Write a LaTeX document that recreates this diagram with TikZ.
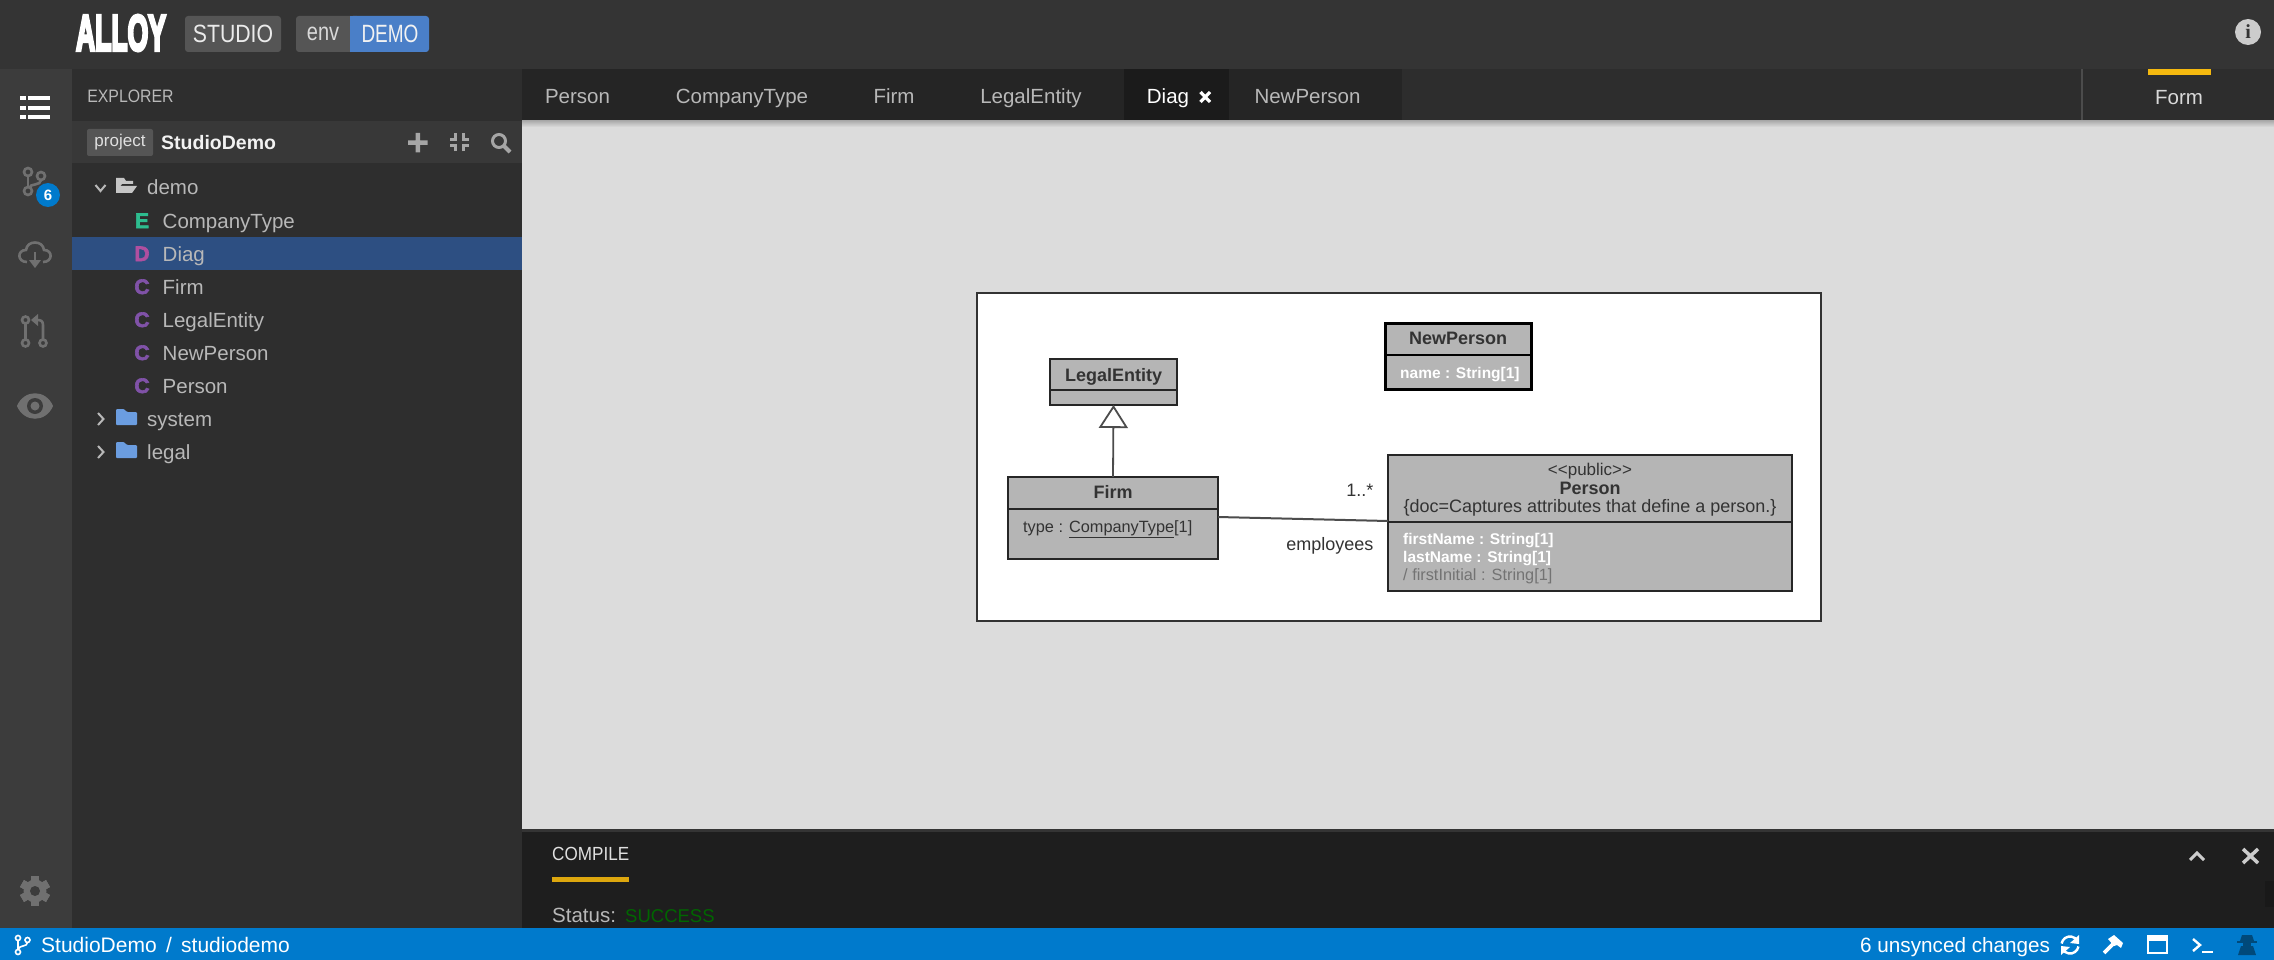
\documentclass[tikz,border=0pt]{standalone}
\usepackage{fontspec}
\usepackage{graphicx}
\setmainfont{Liberation Sans}
\newfontfamily\heavyfont{Liberation Sans Bold}[FakeBold = 3]
\newfontfamily\logofont{Liberation Sans Bold}[FakeBold = 7]
\usetikzlibrary{arrows.meta}

\newcommand{\px}[1]{\fontsize{#1}{#1}\selectfont}

\definecolor{topbar}{HTML}{343434}
\definecolor{sidebar}{HTML}{3C3C3C}
\definecolor{explorer}{HTML}{2E2E2E}
\definecolor{headrow}{HTML}{383838}
\definecolor{tabbar}{HTML}{252525}
\definecolor{tabrest}{HTML}{2D2D2D}
\definecolor{tabactive}{HTML}{1B1B1B}
\definecolor{canvas}{HTML}{DCDCDC}
\definecolor{panel}{HTML}{1E1E1E}
\definecolor{statusbar}{HTML}{007ACC}
\definecolor{selrow}{HTML}{2D4F82}
\definecolor{badge}{HTML}{555555}
\definecolor{envblue}{HTML}{4A7FC8}
\definecolor{amber}{HTML}{F5B90F}
\definecolor{boxgrey}{HTML}{B5B5B5}
\definecolor{icongrey}{HTML}{707070}
\definecolor{treetext}{HTML}{B8B8B8}
\definecolor{folderblue}{HTML}{6B9DE0}
\definecolor{enumgreen}{HTML}{2DBD8F}
\definecolor{diagpink}{HTML}{B04FA0}
\definecolor{classpurple}{HTML}{8052A8}

\tikzset{
	uitext/.style = {inner sep = 0, text height = 14, text depth = 0, text = treetext, font = \px{20.5}},
	treeicon/.style = {inner sep = 0, text height = 14, text depth = 0, font = \px{21}\heavyfont},
	umlbox/.style = {draw = black!85, fill = boxgrey, line width = 1.6, inner sep = 0, outer sep = 0, anchor = north west},
	umltext/.style = {inner sep = 0, text height = 13, text depth = 0, text = black!80, font = \px{18}},
	umlattr/.style = {inner sep = 0, text height = 12.5, text depth = 0, anchor = west, text = white, font = \px{15.5}\bfseries},
	iconline/.style = {draw = icongrey, line width = 2.6},
	whiteline/.style = {draw = white, line width = 2.4}
}

\begin{document}
\begin{tikzpicture}[x = 1pt, y = -1pt, > = latex]

	\useasboundingbox (0, 0) rectangle (2274, 960);

	% Panels

	\fill [topbar] (0, 0) rectangle (2274, 70);
	\fill [sidebar] (0, 69) rectangle (72, 930);
	\fill [explorer] (72, 69) rectangle (522, 930);
	\fill [headrow] (72, 121) rectangle (522, 163);
	\fill [selrow] (72, 237) rectangle (522, 270);
	\fill [tabrest] (522, 69) rectangle (2274, 121);
	\fill [tabbar] (522, 69) rectangle (1402, 121);
	\fill [tabactive] (1124, 69) rectangle (1229, 121);
	\fill [black!70] (2081, 69) rectangle (2083, 121);
	\fill [canvas] (522, 121) rectangle (2274, 829);
	\shade [top color = black!32, bottom color = canvas] (522, 121) rectangle (2274, 127);
	\fill [topbar] (522, 829) rectangle (2274, 832);
	\fill [panel] (522, 832) rectangle (2274, 930);
	\fill [black!90] (2265, 881) rectangle (2274, 907);

	% Top bar

	\node [inner sep = 0, text = white] (logo) at (121, 33) {\scalebox{.78}[1.48]{\px{34}\logofont ALLOY}};
	\node [fill = badge, rounded corners = 3, minimum width = 96, minimum height = 36, inner sep = 0] (studiobox) at (233, 34) {};
	\node [inner sep = 0, text = black!8, font = \px{25}] (studio) at (233, 34) {\scalebox{.85}[1]{STUDIO}};
	\fill [badge, rounded corners = 3] (296, 16) rectangle (360, 52);
	\fill [envblue, rounded corners = 3] (350, 16) rectangle (429, 52);
	\fill [envblue] (350, 16) rectangle (358, 52);
	\node [inner sep = 0, text = black!15, font = \px{25}] (env) at (323, 33.5) {\scalebox{.8}[1]{env}};
	\node [inner sep = 0, text = black!5, font = \px{25}] (demo) at (390, 34) {\scalebox{.76}[1]{DEMO}};
	\node [circle, fill = black!20, minimum size = 26, inner sep = 0, text = topbar, font = \px{20}\bfseries\fontspec{Liberation Serif}] (info) at (2248, 32) {i};

	% Sidebar icons

	\foreach \n in {98, 108, 117} {
		\fill [white] (20, \n - 2) rectangle (26, \n + 2);
		\fill [white] (28, \n - 2) rectangle (50, \n + 2);
	}

	\draw [iconline] (28, 172) circle (4) (41, 176) circle (4) (28, 191) circle (4);
	\draw [iconline] (28, 176) -- (28, 187);
	\draw [iconline] (41, 180) .. controls (41, 186) and (30, 183) .. (29, 188);
	\node [circle, fill = statusbar, minimum size = 24, inner sep = 0, text = white, font = \px{15}\bfseries] (branchcount) at (48, 195) {6};

	\draw [iconline] (27, 262) .. controls (17, 262) and (17, 250) .. (26, 250) .. controls (27, 240) and (43, 240) .. (44, 250) .. controls (53, 250) and (53, 262) .. (43, 262);
	\draw [iconline] (35, 252) -- (35, 262);
	\fill [icongrey] (29, 260) -- (41, 260) -- (35, 268) -- cycle;

	\draw [iconline] (25.5, 320) circle (3.5) (25.5, 343) circle (3.5) (43, 343) circle (3.5);
	\draw [iconline] (25.5, 323.5) -- (25.5, 339.5);
	\draw [iconline] (43, 339.5) -- (43, 325) .. controls (43, 321) and (41, 320) .. (37, 320);
	\fill [icongrey] (38, 314) -- (38, 326) -- (31, 320) -- cycle;

	\fill [icongrey] (17, 406) .. controls (24, 389) and (46, 389) .. (53, 406) .. controls (46, 423) and (24, 423) .. (17, 406) -- cycle;
	\fill [sidebar] (35, 406) circle (8);
	\fill [icongrey] (35, 406) circle (4.5);

	\foreach \n in {0, 60, ..., 300}
		\fill [icongrey, rotate around = {\n:(35, 891)}] (31, 876) rectangle (39, 906);
	\fill [icongrey] (35, 891) circle (11.5);
	\fill [sidebar] (35, 891) circle (5);

	% Explorer header

	\node [uitext, font = \px{18}, text height = 13] (explorerlabel) at (130.5, 96) {\scalebox{.88}[1]{EXPLORER}};
	\node [fill = badge, rounded corners = 2, minimum width = 66, minimum height = 27, inner sep = 0, text = black!12, font = \px{17}] (projectbox) at (120, 142.5) {project};
	\node [inner sep = 0, text height = 13.5, text depth = 0, anchor = west, text = black!5, font = \px{19.5}\bfseries] (projectname) at (161, 143) {StudioDemo};

	\fill [black!35] (408, 140.5) rectangle (427.5, 145) (415.5, 133) rectangle (420, 152.5);
	\foreach \sx/\sy in {1/1, -1/1, 1/-1, -1/-1}
		\draw [black!35, line width = 3] (459.5 - 4 * \sx, 142.5 - 9 * \sy) -- (459.5 - 4 * \sx, 142.5 - 3 * \sy) -- (459.5 - 9.5 * \sx, 142.5 - 3 * \sy);
	\draw [black!35, line width = 3] (499, 141) circle (6.5);
	\draw [black!35, line width = 4] (504, 146) -- (510, 152);

	% File tree

	\draw [treetext, line width = 2] (95.5, 185) -- (100.5, 191) -- (105.5, 185);
	\foreach \n in {419, 452}
		\draw [treetext, line width = 2] (98, \n - 6) -- (103.5, \n) -- (98, \n + 6);

	\fill [treetext!80] (116, 193) -- (116, 178) -- (124, 178) -- (126, 181) -- (133, 181) -- (133, 184) -- (122, 184) -- (118, 188) -- (120, 186) -- (137, 186) -- (132, 193) -- cycle;
	\foreach \n in {417, 450}
		\fill [folderblue, rounded corners = 1] (116, \n + 8) -- (116, \n - 8) -- (124, \n - 8) -- (127, \n - 5) -- (137, \n - 5) -- (137, \n + 8) -- cycle;

	\node [uitext, anchor = west] (treedemo) at (147, 188) {demo};
	\node [uitext, anchor = west] (treesystem) at (147, 419) {system};
	\node [uitext, anchor = west] (treelegal) at (147, 452) {legal};

	\foreach \rowy/\rowchar/\rowcol/\rowname in {221/E/enumgreen/CompanyType, 254/D/diagpink/Diag, 287/C/classpurple/Firm, 320/C/classpurple/LegalEntity, 353/C/classpurple/NewPerson, 386/C/classpurple/Person} {
		\node [treeicon, text = \rowcol] (icon\rowname) at (142, \rowy) {\rowchar};
		\node [uitext, anchor = west] (tree\rowname) at (162.5, \rowy) {\rowname};
	}

	% Tabs

	\foreach \tabx/\tabname in {577.5/Person, 742/CompanyType, 894/Firm, 1031/LegalEntity, 1307.5/NewPerson}
		\node [uitext] (tab\tabname) at (\tabx, 96.5) {\tabname};
	\node [uitext, text = white] (tabDiag) at (1168, 96.5) {Diag};
	\draw [white, line width = 3.2] (1200.5, 92) -- (1210, 102) (1210, 92) -- (1200.5, 102);

	\fill [amber] (2148, 69.5) rectangle (2211, 75);
	\node [uitext, text = black!15] (tabForm) at (2179, 98) {Form};

	% Diagram

	\fill [white] (977, 293) rectangle (1821, 621);
	\draw [black!80, line width = 1.8] (977, 293) rectangle (1821, 621);

	\node [umlbox, minimum width = 127, minimum height = 46] (legal) at (1050, 359) {};
	\node [umlbox, minimum width = 210, minimum height = 82] (firm) at (1008, 477) {};
	\node [umlbox, minimum width = 146, minimum height = 66, line width = 3, draw = black] (newperson) at (1385, 323) {};
	\node [umlbox, minimum width = 404, minimum height = 136] (person) at (1388, 455) {};

	\draw [black!85, line width = 1.6] (1050, 390) -- (1177, 390);
	\draw [black!85, line width = 1.6] (1008, 509) -- (1218, 509);
	\draw [black, line width = 2.6] (1385, 355) -- (1531, 355);
	\draw [black!85, line width = 1.6] (1388, 522) -- (1792, 522);

	\node [umltext, font = \px{18}\bfseries] (legalname) at (1113.5, 374.5) {LegalEntity};
	\node [umltext, font = \px{18}\bfseries] (firmname) at (1113, 492) {Firm};
	\node [umltext, anchor = west, font = \px{16.3}] (firmattr) at (1023, 525.5) {type : \underline{CompanyType}[1]};
	\node [umltext, font = \px{18}\bfseries] (newpersonname) at (1458, 338) {NewPerson};
	\node [umlattr] (newpersonattr) at (1400, 372) {name : String[1]};
	\node [umltext, font = \px{17}] (personstereo) at (1590, 469) {<{}<public>{}>};
	\node [umltext, font = \px{18}\bfseries] (personname) at (1590, 488) {Person};
	\node [umltext] (persondoc) at (1590, 506) {\{doc=Captures attributes that define a person.\}};
	\node [umlattr] (personfirst) at (1403, 538) {firstName : String[1]};
	\node [umlattr] (personlast) at (1403, 556) {lastName : String[1]};
	\node [umlattr, text = black!55, font = \px{16.3}] (personinitial) at (1403, 574) {/ firstInitial : String[1]};

	\draw [-{Triangle[open, fill = white, length = 23, width = 29]}, black!70, line width = 1.8] (firm.north) -- (legal.south);
	\draw [black!70, line width = 2] ([yshift = 1]firm.east) -- ([yshift = 2]person.west);

	\node [umltext, anchor = east] (multiplicity) at (1373.5, 490) {1..*};
	\node [umltext, anchor = east] (rolename) at (1373.5, 544) {employees};

	% Compile panel

	\node [uitext, anchor = west, text = black!12, font = \px{19}] (compile) at (552, 853) {\scalebox{.9}[1]{COMPILE}};
	\fill [amber!90!black] (552, 877) rectangle (629, 882);
	\node [uitext, anchor = west] (statuslabel) at (552, 915) {Status:};
	\node [uitext, anchor = west, text = green!40!black, font = \px{18.5}] (statusvalue) at (625, 915) {SUCCESS};

	\draw [black!20, line width = 3] (2190, 860) -- (2197, 853) -- (2204, 860);
	\draw [black!20, line width = 3.5] (2243, 849) -- (2258, 863) (2258, 849) -- (2243, 863);

	% Status bar

	\fill [statusbar] (0, 928) rectangle (2274, 960);

	\draw [white, line width = 1.6] (18, 938) circle (2.5) (27.5, 940) circle (2.5) (18, 952) circle (2.5);
	\draw [white, line width = 1.6] (18, 940.5) -- (18, 949.5);
	\draw [white, line width = 1.6] (27.5, 942.5) .. controls (27.5, 947) and (19, 945) .. (18.5, 949);
	\node [inner sep = 0, text height = 14, text depth = 0, anchor = west, text = white, font = \px{21}] (branchname) at (41, 945) {StudioDemo\hspace{3.5pt} / \hspace{3.5pt}studiodemo};
	\node [inner sep = 0, text height = 14, text depth = 0, anchor = west, text = white, font = \px{20.7}] (unsynced) at (1860, 945) {6 unsynced changes};

	\draw [whiteline] (2061.6, 943.5) arc (-170:-30:8.5) (2078.4, 946.5) arc (10:150:8.5);
	\fill [white] (2079, 935) -- (2079, 944) -- (2070, 943) -- cycle;
	\fill [white] (2061, 955) -- (2061, 946) -- (2070, 947) -- cycle;
	\draw [white, line width = 3.6] (2104, 953) -- (2116, 941);
	\fill [white] (2108, 939) -- (2114, 935) -- (2123, 943) -- (2121, 948) -- (2117, 945) -- (2114, 946) -- cycle;
	\draw [whiteline] (2148, 936) rectangle (2167, 953);
	\fill [white] (2147, 935) rectangle (2168, 941);
	\draw [whiteline] (2193, 939) -- (2200, 945) -- (2193, 951);
	\draw [whiteline] (2202, 952) -- (2213, 952);
	\fill [statusbar!60!black] (2242, 935) -- (2252, 935) -- (2254, 941) -- (2240, 941) -- cycle (2238, 955) -- (2241, 946) -- (2253, 946) -- (2256, 955) -- cycle;
	\fill [statusbar!60!black] (2237, 941) rectangle (2257, 943);
	\fill [statusbar!60!black] (2243, 943) rectangle (2251, 947);

\end{tikzpicture}
\end{document}
